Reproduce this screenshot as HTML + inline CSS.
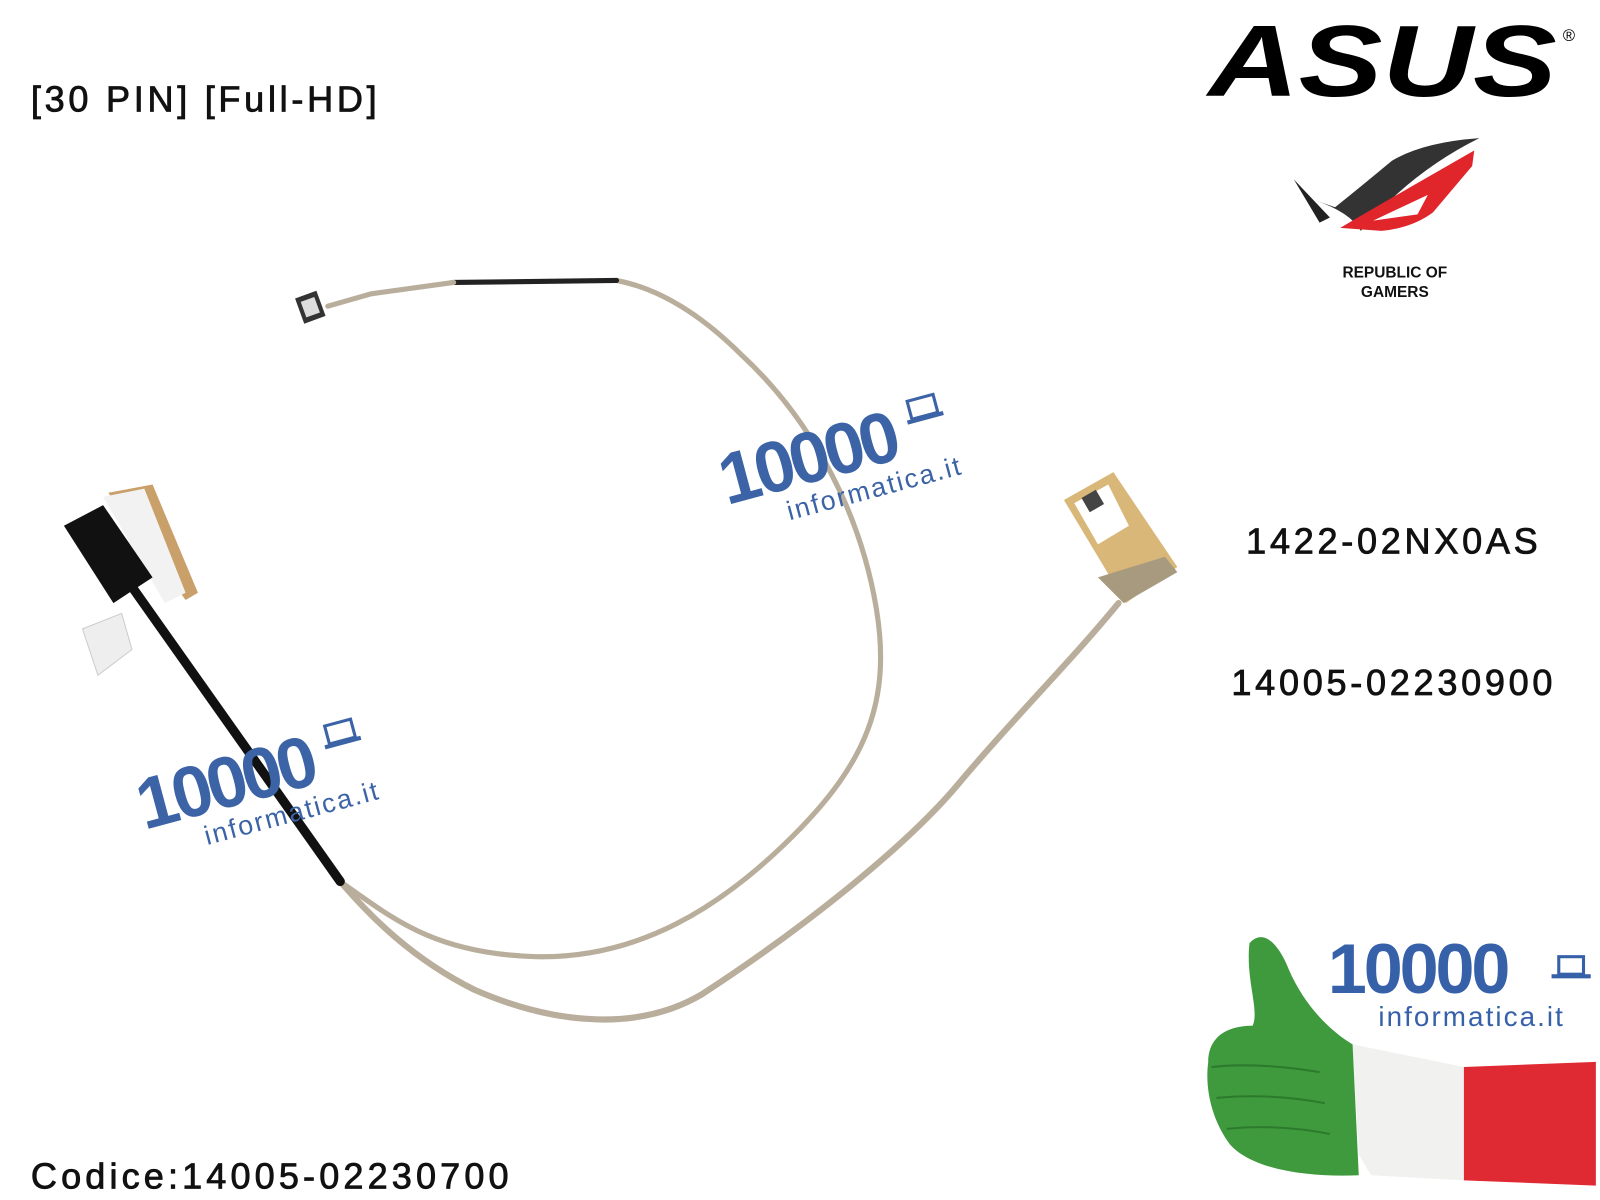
<!DOCTYPE html>
<html><head><meta charset="utf-8"><style>
html,body{margin:0;padding:0;background:#fff;}
svg{display:block;}
text{font-family:"Liberation Sans",sans-serif;}
</style></head><body>
<svg width="1600" height="1200" viewBox="0 0 1552 1164" xmlns="http://www.w3.org/2000/svg">
<rect width="1552" height="1164" fill="#fff"/>
<g fill="#111" stroke="#111" stroke-width="0.8" font-size="35" letter-spacing="3.6">
<text x="30" y="108">[30 PIN] [Full-HD]</text>
<text x="30" y="1153" letter-spacing="4">Codice:14005-02230700</text>
<text x="1352" y="537" text-anchor="middle">1422-02NX0AS</text>
<text x="1352" y="674" text-anchor="middle">14005-02230900</text>
</g>

<!-- ASUS -->
<text x="1172" y="93" font-size="98" font-weight="bold" font-style="italic" textLength="338" lengthAdjust="spacingAndGlyphs" fill="#000">ASUS</text>
<text x="1516" y="40" font-size="16" fill="#000">®</text>
<!-- ROG -->
<g transform="translate(-10,-4)">
<path d="M1265 178 L1300 215 L1290 220 Z" fill="#222"/>
<path d="M1285 198 Q1320 210 1330 228 Q1380 170 1445 138 Q1390 142 1360 160 Q1330 185 1305 205 Z" fill="#333"/>
<path d="M1310 225 Q1370 190 1440 150 L1438 165 L1400 210 Q1380 225 1350 228 Z" fill="#e0262b"/>
<path d="M1342 218 L1395 193 L1385 212 Z" fill="#fff"/>
</g>
<text x="1353" y="269" font-size="15" font-weight="bold" text-anchor="middle" fill="#111">REPUBLIC OF</text>
<text x="1353" y="288" font-size="15" font-weight="bold" text-anchor="middle" fill="#111">GAMERS</text>

<!-- cables -->
<g fill="none" stroke-linecap="round" stroke-linejoin="round">
<path d="M330 855 C380 890 420 925 520 928 C620 930 700 880 770 810 C840 740 865 680 850 590 C835 500 790 410 720 345 C680 305 640 280 598 272" stroke="#b9ae9b" stroke-width="5"/>
<path d="M598 272 L440 274" stroke="#222" stroke-width="5"/>
<path d="M440 274 L360 285 L318 297" stroke="#b9ae9b" stroke-width="5"/>
<path d="M1085 585 C1040 640 980 700 930 760 C880 820 780 900 680 965 C620 1000 540 995 460 960 C400 930 360 890 330 855" stroke="#b9ae9b" stroke-width="6"/>
<path d="M125 565 L330 855" stroke="#111" stroke-width="9"/>
</g>
<!-- small connector -->
<rect x="290" y="285" width="22" height="26" fill="#333" transform="rotate(-20 301 298)"/>
<rect x="294" y="290" width="14" height="16" fill="#ddd" transform="rotate(-20 301 298)"/>
<!-- left connector -->
<polygon points="105,478 148,470 192,575 180,582" fill="#c9a06a"/>
<polygon points="100,482 140,474 180,575 160,585" fill="#f2f2f2"/>
<polygon points="62,510 100,490 148,560 110,585" fill="#111"/>
<polygon points="80,610 118,595 128,630 95,655" fill="#eee" stroke="#ccc"/>
<!-- right connector -->
<polygon points="1032,485 1080,458 1142,550 1092,585" fill="#d8b779"/>
<polygon points="1042,488 1075,470 1095,510 1065,528" fill="#fff"/>
<rect x="1052" y="478" width="16" height="16" fill="#444" transform="rotate(-30 1060 486)"/>
<polygon points="1065,560 1130,540 1142,555 1090,585" fill="#a79a7f"/>

<!-- watermarks -->
<g transform="translate(705,490) rotate(-15)" fill="#3b63a6">
<text x="0" y="0" font-size="70" font-weight="bold" letter-spacing="-4">10000</text>
<text x="55" y="30" font-size="26" letter-spacing="2">informatica.it</text>
<rect x="195" y="-52" width="26" height="18" fill="none" stroke="#3b63a6" stroke-width="3"/>
<rect x="190" y="-34" width="36" height="4"/>
</g>
<g transform="translate(140,805) rotate(-15)" fill="#3b63a6">
<text x="0" y="0" font-size="70" font-weight="bold" letter-spacing="-4">10000</text>
<text x="55" y="30" font-size="26" letter-spacing="2">informatica.it</text>
<rect x="195" y="-52" width="26" height="18" fill="none" stroke="#3b63a6" stroke-width="3"/>
<rect x="190" y="-34" width="36" height="4"/>
</g>
<!-- bottom logo -->
<text x="1288" y="963" font-size="68" font-weight="bold" letter-spacing="-3" fill="#3660a8">10000</text>
<rect x="1512" y="928" width="24" height="17" fill="none" stroke="#3660a8" stroke-width="3"/>
<rect x="1505" y="945" width="38" height="4" fill="#3660a8"/>
<text x="1337" y="995" font-size="27" letter-spacing="2" fill="#3660a8">informatica.it</text>
<!-- thumb -->
<path d="M1312 1013 L1420 1035 L1420 1145 L1330 1140 L1318 1120 Z" fill="#f1f1ef"/>
<path d="M1420 1035 L1548 1030 L1548 1150 L1420 1145 Z" fill="#e02a33"/>
<path d="M1312 1013 C1290 1000 1265 975 1250 940 C1240 915 1225 900 1212 915 C1208 950 1222 980 1215 995 C1185 995 1172 1010 1172 1030 C1168 1060 1178 1090 1193 1110 C1215 1135 1270 1142 1318 1140 Z" fill="#3f9a3e"/>
<g stroke="#2c7a2c" stroke-width="2" fill="none">
<path d="M1175 1035 Q1220 1030 1280 1040"/>
<path d="M1180 1065 Q1230 1060 1285 1070"/>
<path d="M1190 1095 Q1240 1090 1290 1100"/>
</g>
</svg>
</body></html>
